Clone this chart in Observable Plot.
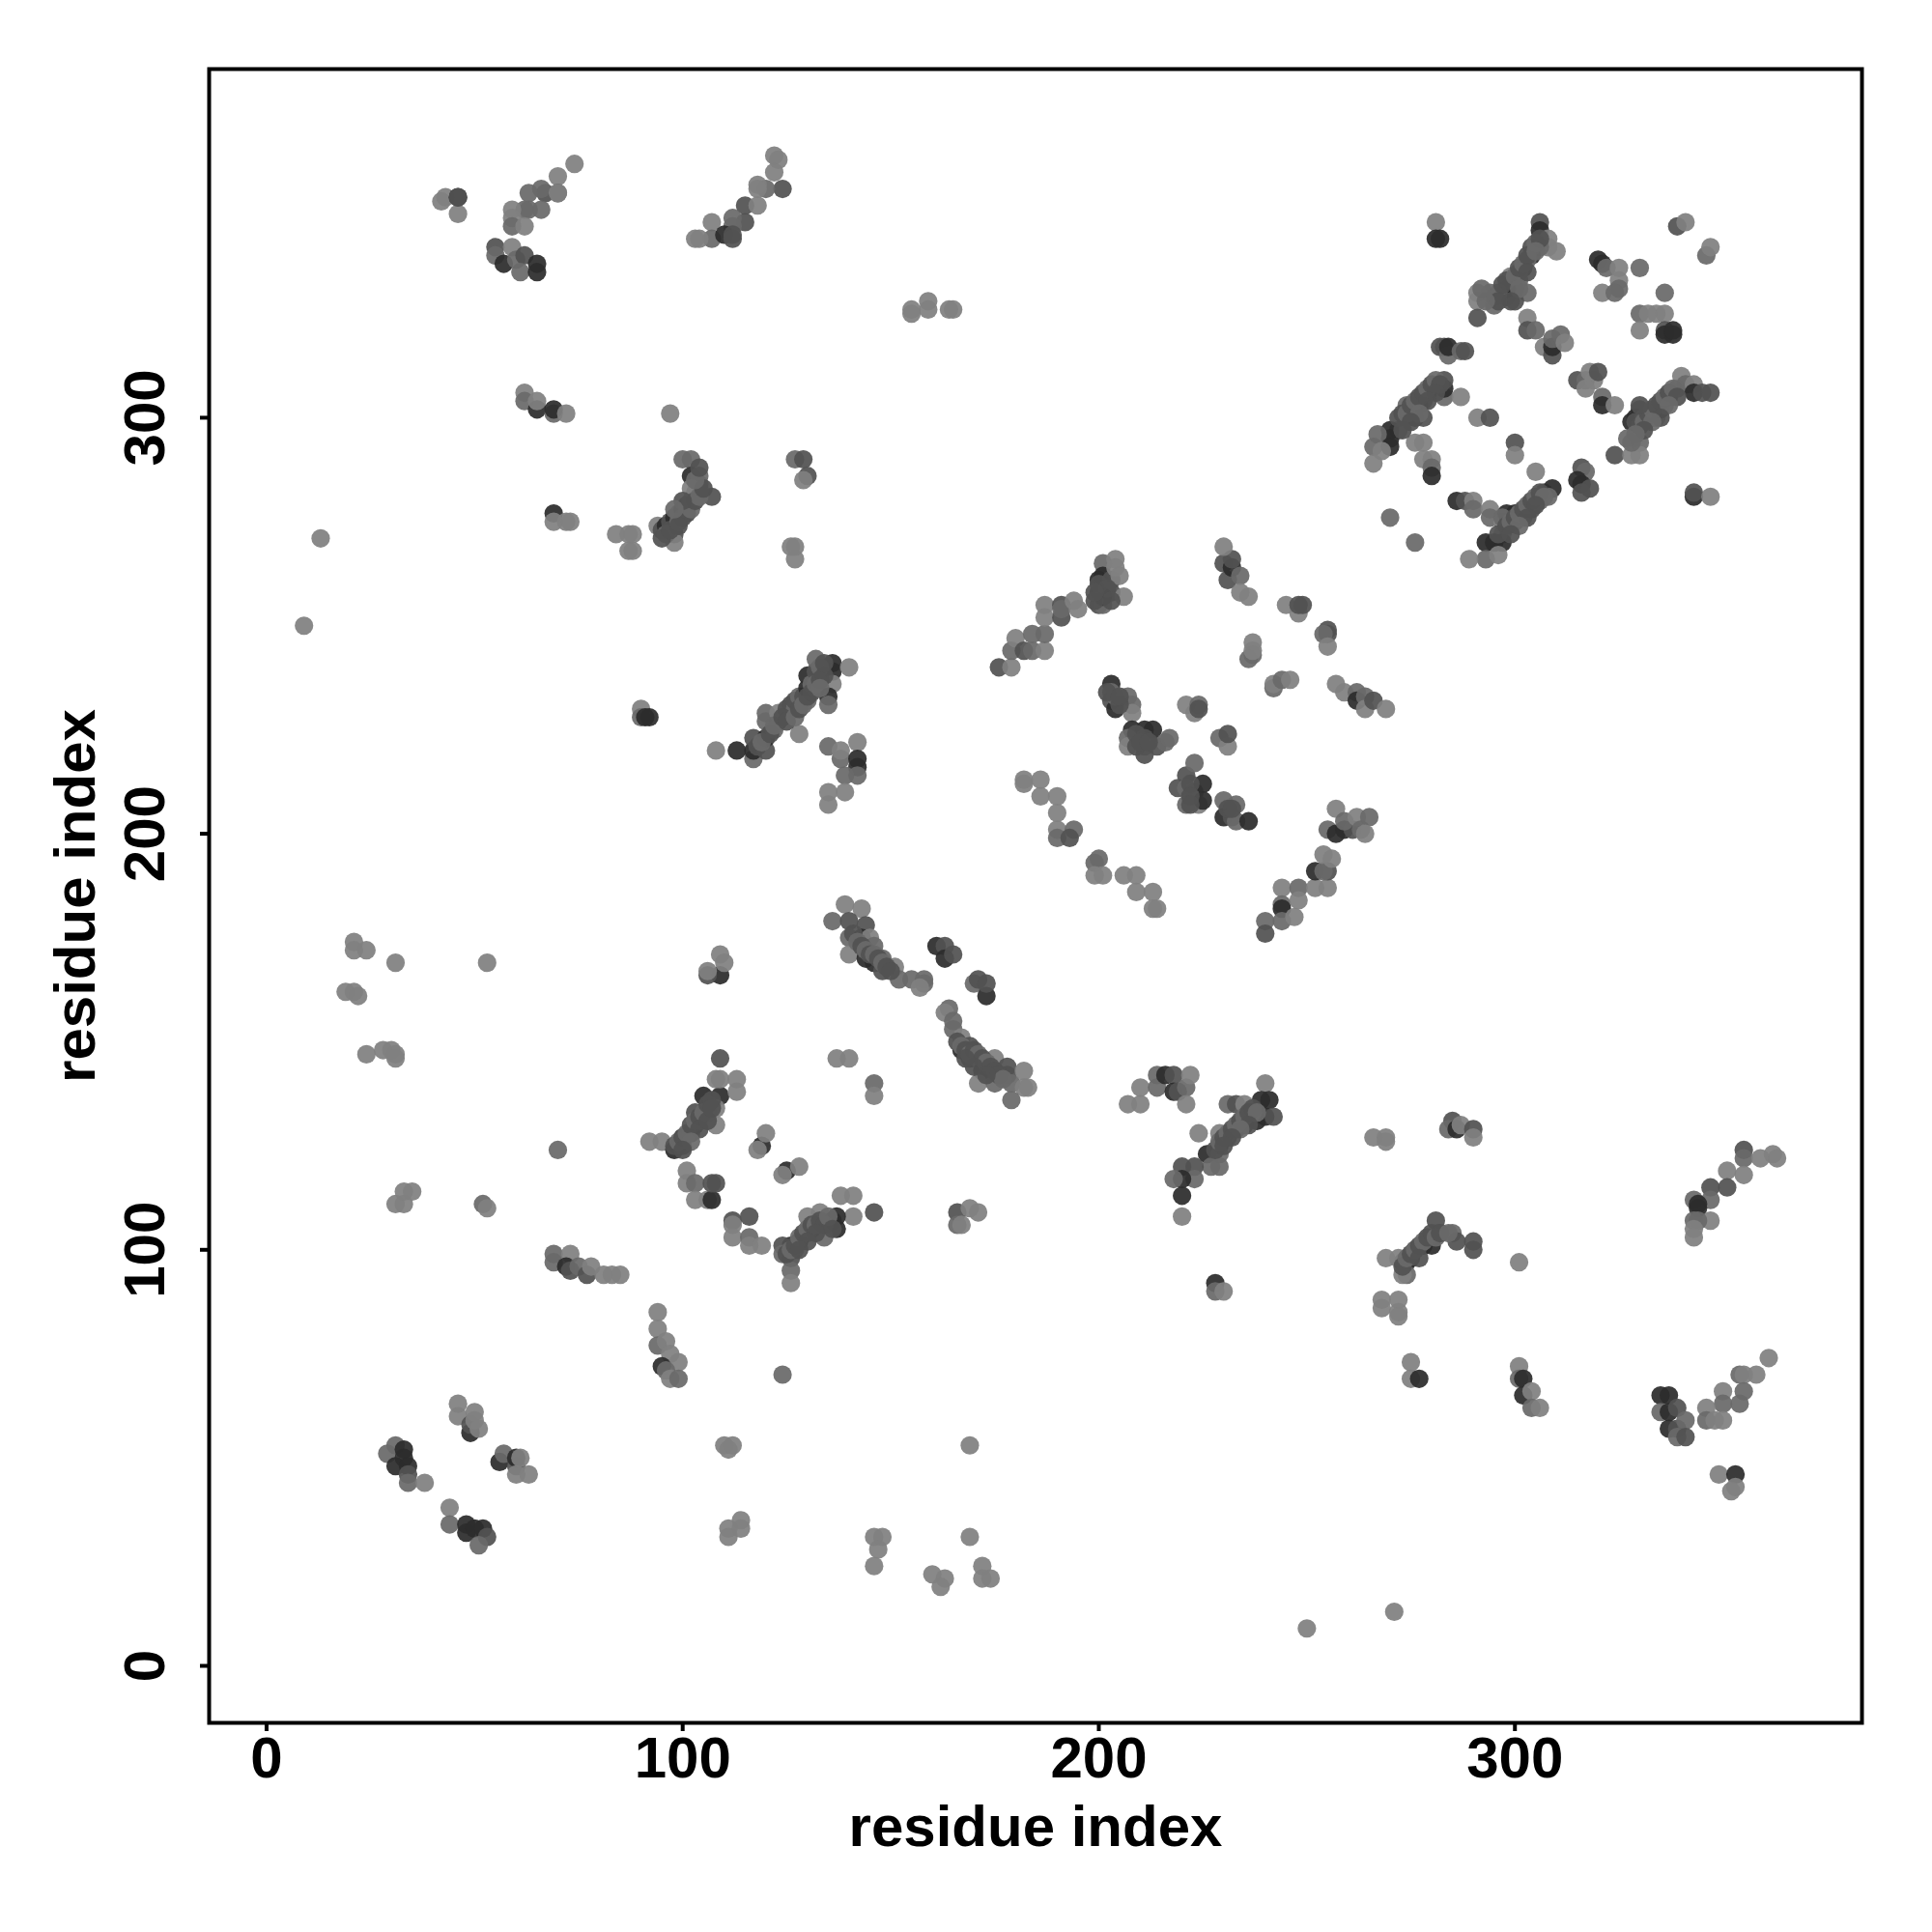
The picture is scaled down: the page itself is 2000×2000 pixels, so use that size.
<!DOCTYPE html>
<html><head><meta charset="utf-8">
<style>html,body{margin:0;padding:0;background:#fff}</style>
<script src="https://cdn.jsdelivr.net/npm/d3@7"></script>
<script src="https://cdn.jsdelivr.net/npm/@observablehq/plot@0.6"></script>
</head><body><div id="chart"></div>
<script>
// each contact: [residue i, residue j, stacked-contact shade 0 (single) .. 3 (many)]
const topLeft = [[74,361,0],[70,358,0],[70,354,2],[67,354,2],[66,355,1],[63,354,1],[70,354,0],[66,350,1],[63,350,1],[62,350,1],[59,350,0],[59,348,0],[59,346,1],[62,346,0],
[55,341,2],[55,339,1],[57,337,3],[59,341,0],[60,338,1],[62,339,2],[61,335,1],[65,335,3],[65,337,3],
[42,352,0],[43,353,0],[46,349,0],[46,353,3],[46,353,2]];
const topMid = [[122,363,0],[123,362,0],[122,359,0],[124,355,2],[120,355,1],[118,356,0],[118,355,0],[115,351,2],[115,347,2],[112,348,1],[112,346,1],[118,351,0],
[107,347,0],[107,343,1],[110,344,3],[112,343,2],[112,344,2],[103,343,0],[104,343,0]];
const upperLeft = [[62,306,0],[62,304,1],[65,302,3],[65,304,0],[69,301,1],[69,302,3],[72,301,0],[97,301,0],
[100,290,1],[102,290,1],[102,286,3],[104,286,1],[104,284,1],[107,281,2],[94,274,0],[95,273,2],[96,274,3],[97,275,2],[98,276,3],[99,277,1],[100,278,3],[101,279,2],[102,280,1],[103,282,2],[104,283,1],[102,283,0],[98,272,2],[98,270,0],[96,272,1],
[69,277,3],[69,275,0],[72,275,0],[73,275,0],[13,271,0],[9,250,0],[84,272,0],[87,272,0],[88,272,0],[87,268,0],[88,268,0]];
const upperCentre = [[127,290,1],[129,290,2],[130,286,2],[129,285,0],[127,269,0],[126,269,0],[127,266,0],[90,230,0],[90,228,1],[91,228,3],[92,228,3],
[108,220,0],[113,220,3],[117,218,1],[117,220,3],[120,220,2],[117,223,2],[120,223,3],[120,229,1],[120,227,1],[123,227,2],[123,229,0],[128,224,0],[122,225,1],
[125,230,2],[126,231,2],[127,230,1],[127,232,2],[128,233,1],[129,233,2],[130,232,1],[130,235,3],[130,238,3],[132,235,0],[131,236,1],[132,239,2],[132,242,1],[136,241,3],[136,239,3],[136,236,0],[135,233,3],[135,231,1],[140,240,0],[133,240,1],
[135,221,1],[138,218,1],[138,220,0],[142,222,0],[142,218,3],[142,216,3],[142,214,1],[139,214,1],[139,210,0],[135,210,0],[135,207,0]];
const midArcs = [[176,240,2],[179,240,0],[179,244,1],[180,247,0],[182,244,2],[184,244,1],[187,244,0],[184,248,1],[187,248,1],[187,255,0],[187,252,0],[191,255,2],[191,252,2],[191,254,1],[194,256,0],[195,254,0],
[201,265,1],[200,261,3],[201,262,3],[200,258,3],[200,255,2],[203,258,2],[201,255,1],[201,257,3],[203,261,2],[204,266,0],[204,264,0],[205,262,0],[206,257,0],
[231,261,2],[230,265,2],[232,264,3],[232,266,2],[230,269,0],[234,262,1],[234,258,0],[236,257,0],[245,255,0],[248,253,0],[248,255,2],[249,255,2],[255,249,2],[255,248,2],[254,248,1],[255,245,0],
[237,246,0],[237,243,1],[236,242,1],[237,244,0],[242,235,1],[242,236,0],[244,237,1],[246,237,0],[257,236,0],[259,234,0],[262,234,1],[262,232,3],[264,233,1],[264,230,0],[266,232,2],[269,230,0]];
const centreGrid = [[203,236,3],[203,234,1],[203,232,2],[204,230,3],[204,233,1],[207,233,1],[208,231,1],[208,229,0],
[208,225,3],[211,225,3],[213,225,3],[207,223,1],[207,221,0],[211,223,2],[211,221,1],[211,219,2],[209,221,2],[214,221,2],[216,222,1],[217,223,1],
[221,231,0],[223,229,0],[224,231,1],[224,230,2],[229,223,1],[231,221,0],[231,224,2],
[221,214,2],[223,217,1],[219,211,2],[221,211,1],[221,207,1],[223,210,1],[224,207,0],[225,212,3],[225,208,3],
[230,208,1],[233,207,1],[230,204,3],[232,204,2],[233,203,1],[236,203,3]];
const lowerArc = [[182,213,0],[182,212,0],[186,213,0],[186,209,0],[190,209,0],[190,205,0],[190,201,0],[190,199,1],[194,201,1],[193,199,2],
[200,194,1],[199,193,1],[199,190,0],[201,190,0],[206,190,0],[209,190,0],[209,186,0],[213,186,0],[213,182,0],[214,182,0]];
const riseE = [[240,179,1],[240,176,2],[244,187,0],[244,183,1],[244,182,3],[244,179,1],[248,187,1],[248,184,0],[247,180,0],[252,187,0],[255,187,0],[252,191,3],[255,191,2],[254,191,1],[254,195,0],[256,194,0],
[255,201,1],[257,200,3],[259,201,3],[261,201,2],[257,206,0],[259,203,1],[262,204,0],[263,201,1],[265,204,1],[264,200,0]];
const upperRightA = [[281,347,0],[281,343,3],[282,343,3],[306,347,2],[306,345,3],[308,343,0],[308,341,0],[310,340,0],[306,341,1],[304,339,3],[303,338,1],[302,336,3],[301,335,1],[299,334,0],[301,333,1],[299,331,2],[303,330,1],[300,331,2],[298,329,3],[300,328,2],[298,331,3],[295,329,3],[295,327,1],[294,330,1],[291,330,0],[291,328,0],[291,324,2],
[303,324,0],[303,321,2],[305,321,1],[307,317,0],[309,315,2],[309,317,3],[309,319,1],[311,320,1],[312,318,0],
[320,338,3],[321,337,3],[322,336,1],[325,336,0],[325,333,0],[325,331,1],[321,330,0],[324,330,1],[330,336,1],[336,330,1],[339,346,2],[341,347,0],[346,339,1],[347,341,0],
[330,325,1],[332,325,0],[334,325,0],[336,325,0],[330,321,0],[336,321,2],[336,320,3],[338,320,3],[338,321,3]];
const upperRightB = [[283,317,2],[282,317,2],[284,315,1],[284,317,3],[287,316,1],[288,316,2],
[283,305,1],[283,307,3],[283,309,2],[287,305,0],[280,307,2],[279,306,3],[278,304,2],[277,303,3],[275,302,2],[276,300,3],[278,300,2],[274,303,1],[272,297,1],[270,297,3],[270,295,3],[267,296,1],[266,293,1],[270,293,3],[268,292,0],[266,289,0],
[276,294,0],[278,294,0],[278,290,0],[280,290,0],[280,288,1],[280,286,3],[291,300,0],[294,300,2],[300,294,2],[300,291,0],[305,287,0],
[286,280,3],[288,280,2],[290,280,0],[290,278,1],[294,278,0],[294,276,1],[297,275,0],[298,277,3],[300,275,2],[300,277,3],[302,276,1],[304,278,2],[306,280,1],[307,282,2],[309,283,3],[308,281,1],[297,272,0],[297,270,3],[295,270,3],[293,270,3],[293,266,1],[289,266,0],[296,267,0],[270,276,1],[276,270,1],
[316,288,2],[317,287,1],[315,285,3],[316,284,3],[316,282,2],[318,283,2],
[324,291,2],[328,299,3],[327,295,1],[328,291,0],[330,294,1],[330,291,0],[330,302,2],[329,300,3],[331,300,1],[333,300,2],[334,300,0],[334,302,1],[335,302,3],[336,303,1],[337,305,2],[339,307,1],[340,310,0],[341,308,1],[343,308,0],[343,306,3],[345,306,2],[347,306,2],[343,281,3],[343,282,2],[347,281,0],
[315,309,2],[317,309,1],[319,309,0],[317,307,0],[318,311,0],[320,311,2],[321,305,1],[321,303,3],[324,303,0]];
const middleLeft = [[31,169,0],[53,169,0],[21,174,0],[21,172,0],[24,172,0],[19,162,0],[21,162,0],[22,161,0],[24,147,0],[28,148,0],[30,148,0],[31,147,0],[31,146,0],
[31,111,0],[33,111,0],[33,114,0],[35,114,0],[52,111,1],[53,110,0],[70,124,1],[69,99,1],[69,97,1],[73,99,0],[72,96,3],[73,95,2],[75,96,1],[77,94,2],[78,96,0],[81,94,0],[83,94,0],[85,94,0]];
const middleCentre = [[109,166,3],[106,166,2],[106,167,0],[109,171,0],[110,169,0],[92,126,0],[95,126,0],[98,124,3],[99,125,3],[100,125,2],[100,127,3],[102,128,2],[103,130,3],[104,131,1],[103,133,2],[106,133,1],[108,130,0],[105,137,3],[109,137,3],[108,134,0],[108,141,0],[109,141,0],[113,141,0],[113,138,0],[109,146,2],
[119,125,3],[118,124,0],[120,128,0],[125,119,3],[124,118,0],[128,120,0],[101,119,0],[101,116,0],[103,116,1],[103,112,0],[106,112,0],[107,112,3],[107,116,2],[108,116,2],
[112,107,2],[116,108,2],[112,106,0],[112,103,0],[116,103,1],[116,101,0],[119,101,0]];
const upperMidRow = [[136,179,1],[139,183,0],[143,182,0],[140,179,2],[144,178,2],[140,175,1],[143,175,3],[140,171,0],[145,175,0],[146,173,1],[144,170,3],[146,169,3],[148,170,1],[148,167,2],[151,168,0],[152,165,1],[155,165,1],[158,165,1],[158,164,1],[157,163,0],
[161,173,3],[163,173,2],[163,170,3],[165,171,2],[170,164,1],[171,165,2],[173,161,3],[173,164,2],
[164,158,1],[163,157,0],[165,155,1],[165,153,1],[167,151,0],[167,148,3],[169,149,2],[169,146,3],[171,146,0],[172,143,3],[175,146,0],[171,140,0],[175,140,1],[178,144,2],[178,142,2],[179,140,1],[182,143,0],[182,139,0],[183,139,0],[179,136,1],[137,146,0],[140,146,0],[146,140,1],[146,137,0]];
const lowerMid = [[138,113,0],[141,113,0],[141,108,0],[146,109,2],[137,108,3],[137,105,3],[130,108,0],[133,109,0],[134,103,1],[136,107,3],[131,105,3],[130,104,2],[128,102,3],[126,101,3],[124,101,2],[124,99,1],[127,100,1],[126,98,2],[126,95,1],[126,92,0],
[166,109,2],[166,106,1],[167,106,0],[169,110,0],[171,109,0],[94,85,0]];
const lowerLeftA = [[94,81,0],[94,77,1],[96,78,0],[97,75,0],[99,73,0],[95,72,3],[96,71,1],[97,69,0],[99,69,1],[124,70,1]];
const lowerLeftB = [[46,63,0],[46,60,0],[49,56,3],[49,58,2],[50,61,0],[50,59,0],[51,57,0],[31,53,1],[29,51,1],[33,52,3],[33,50,3],[31,48,3],[34,48,3],[34,46,2],[34,44,1],[38,44,0],
[56,49,3],[57,51,1],[60,48,2],[60,50,3],[61,50,0],[60,46,0],[63,46,0],[44,38,0],[44,34,1],[48,32,3],[48,34,3],[52,33,3],[50,33,3],[53,31,2],[51,29,1],
[110,53,0],[111,52,0],[112,53,0],[114,35,0],[111,33,0],[114,33,0],[111,31,0],[146,31,0],[148,31,0],[147,28,0],[146,24,0],[169,53,0],[169,31,0],[172,24,0],[172,21,0],[174,21,0],[160,22,0],[163,21,0],[162,19,0],[250,9,0],[271,13,0]];
const midTopStray = [[155,325,0],[155,326,0],[159,328,0],[159,326,0],[164,326,0],[165,326,0]];
const centreRight = [[207,135,0],[210,135,0],[210,139,0],[214,142,1],[214,139,1],[216,142,3],[218,142,2],[218,138,3],[219,138,2],[221,139,1],[222,142,0],[221,135,0],[224,128,0],
[240,140,0],[239,136,3],[241,136,3],[238,131,3],[240,132,3],[242,132,2],[235,130,3],[231,135,1],[233,135,2],[235,135,0],[237,133,1],[233,129,3],[231,127,2],[229,128,0],[229,125,3],[226,123,3],[229,123,1],[227,120,1],[229,120,1],[223,120,2],[220,120,2],[223,117,1],[220,117,3],[218,117,1],[220,113,3],[220,108,0],
[228,92,3],[228,90,1],[230,90,0],[266,127,0],[269,127,0],[269,126,0]];
const lowerRight = [[285,131,2],[284,129,1],[286,129,3],[287,130,0],[290,129,2],[290,127,0],
[355,124,2],[355,122,1],[359,122,0],[362,123,0],[363,122,0],[351,119,0],[355,118,0],[351,115,2],[347,115,2],[347,112,1],[343,112,1],[344,111,3],[344,110,3],[343,107,1],[347,107,0],[344,107,1],[343,105,0],[343,103,0],
[281,107,2],[285,104,1],[282,104,2],[280,101,3],[286,102,2],[290,102,2],[290,100,2],[278,101,3],[276,100,2],[275,98,3],[274,97,3],[273,97,2],[269,98,0],[272,98,0],[274,94,1],[273,94,0],[301,97,0],
[268,88,0],[268,86,0],[272,88,0],[272,85,0],[272,84,0],[275,73,0],[275,69,0],[277,69,3],
[301,72,0],[301,69,1],[302,65,3],[302,69,3],[304,66,0],[304,62,1],[306,62,0],
[361,74,0],[358,70,0],[354,70,1],[355,70,0],[355,66,1],[350,66,0],[354,63,1],[350,63,1],[346,62,0],[346,59,1],[348,59,0],[350,59,0],
[335,65,3],[337,65,3],[335,61,1],[337,61,3],[339,62,2],[337,57,3],[339,57,2],[341,59,1],[339,55,1],[341,55,2],[349,46,0],[353,46,3],[352,42,0],[353,43,0]];
// contacts inside the dense diagonal bands, which overlap what is already there
const bandUpperLeft = [[95,271,2],[97,273,2],[99,275,1],[100,276,2],[101,277,2],[102,278,1],[103,280,2],[104,281,1],[105,283,2],[103,285,1],[104,288,2],[99,274,2],[100,280,2],[98,278,1]];
const bandUpperCentre = [[118,221,2],[119,222,1],[121,224,2],[122,226,1],[124,228,2],[125,227,2],[127,228,1],[128,230,2],[129,231,1],[130,233,2],[131,234,2],[132,236,1],[133,237,2],[134,238,2],[133,235,1],[134,241,2]];
const bandRightLeft = [[272,300,2],[273,301,2],[274,301,1],[275,303,2],[276,304,1],[277,305,2],[278,306,2],[279,307,1],[280,308,2],[281,309,1],[282,308,2],[281,306,2],[279,304,2],[277,301,1],[275,299,2],[273,297,2]];
const bandRightTop = [[296,330,1],[297,332,2],[298,333,2],[300,334,1],[301,336,2],[302,337,1],[303,339,2],[304,341,2],[305,342,1],[306,343,2],[305,340,1],[303,335,2],[301,331,1],[299,328,2],[296,328,2],[293,328,1],[292,331,1]];
const bandRightLow = [[296,272,2],[297,276,1],[298,274,2],[299,275,1],[300,276,2],[301,277,1],[302,278,2],[303,279,1],[304,280,2],[305,281,1],[306,282,2],[307,281,1],[305,279,2],[303,276,2],[301,274,1],[299,272,2]];
const bandRightEnd = [[329,299,2],[330,298,2],[331,299,1],[332,301,2],[333,302,1],[334,303,2],[335,304,2],[336,305,1],[337,306,2],[338,307,1],[339,305,2],[337,303,1],[335,300,2],[333,299,1],[331,297,2],[329,296,1],[330,303,2],[328,294,1]];
const bandCentreRight = [[228,124,2],[229,126,1],[230,127,2],[231,128,1],[232,129,2],[233,130,1],[234,131,2],[235,132,1],[236,133,2],[237,134,2],[238,133,1],[236,130,2],[234,129,1],[232,127,2],[230,125,2]];
const bandMiddle = [[98,125,2],[99,126,1],[100,127,2],[101,128,1],[102,130,2],[103,131,1],[104,132,2],[105,133,1],[106,135,2],[107,136,2],[104,129,2],[102,126,1],[100,124,2],[106,131,2],[107,134,2]];
const bandLowerMid = [[125,99,2],[126,100,1],[127,101,2],[128,103,1],[129,104,2],[130,105,1],[131,106,2],[132,106,1],[133,107,2],[134,106,2],[135,108,1],[136,105,2],[132,104,2],[130,102,2],[128,100,2]];
const bandLowerRight = [[273,96,2],[274,98,1],[275,99,2],[276,100,1],[277,101,2],[278,102,1],[279,103,2],[280,104,2],[281,103,1],[282,104,2],[284,104,1],[277,98,2]];
const bandUpperRow = [[141,176,2],[142,174,1],[143,173,2],[144,172,1],[145,171,2],[146,171,1],[147,170,2],[148,169,1],[149,168,2],[150,167,2]];
const bandUpperRowEnd = [[166,150,2],[167,149,1],[168,148,2],[169,147,1],[170,148,2],[171,147,1],[172,146,2],[173,145,1],[174,144,2],[175,143,2],[176,142,2],[177,141,1],[173,142,2],[170,144,2],[168,146,2]];
const bandGrid = [[202,234,2],[205,231,2],[205,233,2],[209,224,2],[210,222,2],[212,222,2],[222,212,2],[222,209,2],[222,207,2],[231,206,2],[232,206,2],[200,260,2],[202,259,2],[203,256,2],[199,256,2],[199,258,2]];

const contacts = [topLeft, topMid, upperLeft, upperCentre, midArcs, centreGrid, lowerArc, riseE, upperRightA, upperRightB,
  middleLeft, middleCentre, upperMidRow, lowerMid, lowerLeftA, lowerLeftB, midTopStray, centreRight, lowerRight,
  bandUpperLeft, bandUpperCentre, bandRightLeft, bandRightTop, bandRightLow, bandRightEnd, bandCentreRight, bandMiddle, bandLowerMid, bandLowerRight, bandUpperRow, bandUpperRowEnd, bandGrid]
  .flat().map(([i, j, shade]) => ({i, j, shade}));
const tickValues = [0, 100, 200, 300];

const chart = Plot.plot({
  width: 2000, height: 2000,
  marginLeft: 216, marginRight: 73, marginTop: 71, marginBottom: 217,
  style: {fontFamily: "Liberation Sans", fontWeight: "bold", fontSize: "60px", color: "#000", background: "#fff"},
  x: {domain: [-13.8, 383.4]},
  y: {domain: [-13.7, 383.8]},
  color: {type: "linear", domain: [0, 1, 2, 3], range: ["#808080", "#696969", "#525252", "#2c2c2c"]},
  marks: [
    Plot.dot(contacts, {x: "i", y: "j", r: 9.6, fill: "shade", fillOpacity: 0.93}),
    Plot.frame({stroke: "#000", strokeWidth: 4, strokeOpacity: 1}),
    Plot.axisX({ticks: tickValues, tickSize: 9, strokeWidth: 4, strokeOpacity: 1, tickPadding: 5, fontSize: 60, label: "residue index", labelAnchor: "center", labelArrow: "none", labelOffset: 127}),
    Plot.axisY({ticks: tickValues, tickSize: 9, strokeWidth: 4, strokeOpacity: 1, tickPadding: 38, fontSize: 60, tickRotate: -90, textAnchor: "middle", label: "residue index", labelAnchor: "center", labelArrow: "none", labelOffset: 161})
  ]
});
document.getElementById("chart").appendChild(chart);
</script></body></html>
